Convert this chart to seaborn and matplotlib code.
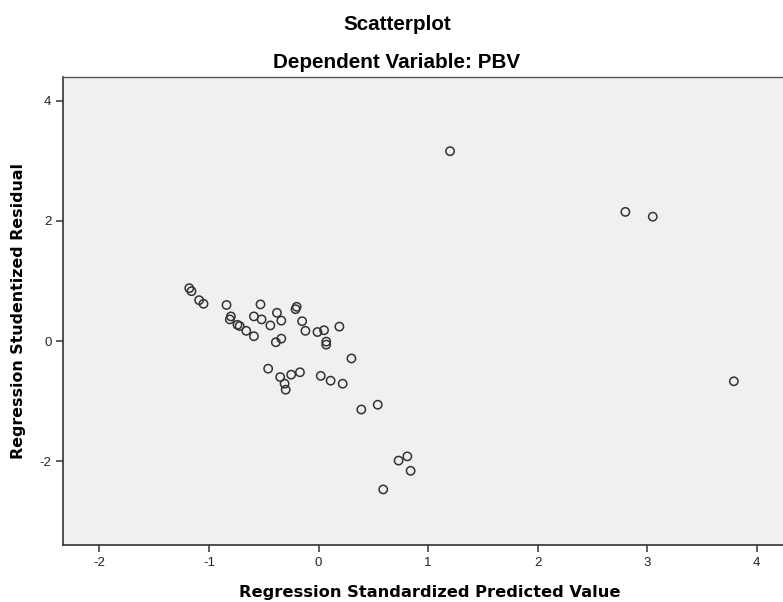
import pandas as pd
import numpy as np
import seaborn as sns
import matplotlib.pyplot as plt

# values
pred = [-1.18, -1.16, -1.09, -1.05, -0.84, -0.80, -0.81, -0.74, -0.72, -0.66,
        -0.59, -0.59, -0.53, -0.52, -0.44, -0.38, -0.34, -0.39, -0.34, -0.20,
        -0.21, -0.15, -0.12, -0.01, 0.05, 0.07, 0.07, 0.19, 0.30, -0.46,
        -0.35, -0.31, -0.30, -0.25, -0.17, 0.02, 0.11, 0.22, 0.39, 0.54,
        0.73, 0.81, 0.84, 0.59, 1.20, 2.80, 3.05, 3.79]
resid = [0.88, 0.83, 0.68, 0.62, 0.60, 0.41, 0.36, 0.27, 0.25, 0.17,
         0.08, 0.41, 0.61, 0.36, 0.26, 0.47, 0.34, -0.02, 0.04, 0.57,
         0.53, 0.33, 0.17, 0.15, 0.18, -0.01, -0.06, 0.24, -0.29, -0.46,
         -0.60, -0.71, -0.81, -0.56, -0.52, -0.58, -0.66, -0.71, -1.14, -1.06,
         -1.99, -1.92, -2.16, -2.47, 3.16, 2.15, 2.07, -0.67]
xticks = [-2, -1, 0, 1, 2, 3, 4]
yticks = [-2, 0, 2, 4]

df = pd.DataFrame({"Regression Standardized Predicted Value": pred,
                   "Regression Studentized Residual": resid})

plt.rcParams['font.family'] = ['Liberation Sans', 'DejaVu Sans']
plt.rcParams['axes.unicode_minus'] = False

fig = plt.figure(figsize=(7.83, 6.02), dpi=100)
ax = fig.add_axes([0.0808, 0.0942, 0.925, 0.7784])
ax.set_facecolor("#f0f0f0")

sns.scatterplot(data=df, x="Regression Standardized Predicted Value",
                y="Regression Studentized Residual", ax=ax,
                s=36, facecolor="none", edgecolor="#333333", linewidth=1.1)

ax.set_xlim(-2.33, 4.28)
ax.set_ylim(-3.4, 4.4)
ax.set_xticks(xticks)
ax.set_yticks(yticks)
ax.tick_params(direction="out", length=5, width=1.2, color="#444444",
               labelsize=9.5, labelcolor="#222222", pad=3.5)

for side in ["left", "bottom"]:
    ax.spines[side].set_color("#333333")
    ax.spines[side].set_linewidth(1.2)
ax.spines["top"].set_color("#555555")
ax.spines["top"].set_linewidth(1.0)
ax.spines["right"].set_visible(False)

ax.set_xlabel("")
ax.set_ylabel("")
fig.text(430 / 783, 1 - 593 / 602, "Regression Standardized Predicted Value",
         ha="center", va="center", fontsize=11.7, fontweight="bold",
         family="DejaVu Sans")
fig.text(19 / 783, 1 - 311 / 602, "Regression Studentized Residual",
         ha="center", va="center", rotation=90, fontsize=11.4,
         fontweight="bold", family="DejaVu Sans")

fig.text(397 / 783, 1 - 24.5 / 602, "Scatterplot", ha="center", va="center",
         fontsize=14.9, fontweight="bold")
fig.text(397 / 783, 1 - 62 / 602, "Dependent Variable: PBV", ha="center",
         va="center", fontsize=14.9, fontweight="bold")

fig.savefig("out.png", dpi=100)
